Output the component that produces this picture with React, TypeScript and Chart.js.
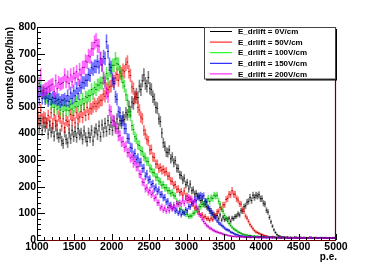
import React, { useEffect, useRef } from "react";
import { Chart, registerables } from "chart.js";

Chart.register(...registerables);

// Histogram binning: 20 p.e. per bin from 1000 to 5000 (200 bins)
const BIN_START = 1000;
const BIN_WIDTH = 20;

const LABELS = [
  "E_drlift = 0V/cm",
  "E_drlift = 50V/cm",
  "E_drlift = 100V/cm",
  "E_drlift = 150V/cm",
  "E_drlift = 200V/cm",
];

const X_TICKS = [1000, 1500, 2000, 2500, 3000, 3500, 4000, 4500, 5000];
const Y_TICKS = [0, 100, 200, 300, 400, 500, 600, 700, 800];

const counts0V = [
  455, 420, 448, 412, 440, 425, 438, 398, 430, 405, 420, 390, 428, 398, 385, 398, 372, 362, 405, 378,
  365, 402, 380, 412, 388, 408, 385, 418, 395, 402, 378, 410, 386, 370, 402, 385, 412, 372, 405, 418,
  395, 428, 388, 432, 405, 438, 408, 448, 415, 442, 412, 445, 425, 455, 420, 448, 438, 462, 452, 478,
  470, 502, 482, 518, 512, 538, 548, 535, 578, 565, 598, 620, 588, 578, 610, 570, 565, 538, 528, 498,
  495, 455, 445, 402, 365, 352, 330, 328, 338, 305, 312, 290, 298, 270, 268, 245, 242, 225, 232, 208,
  215, 192, 210, 185, 188, 172, 175, 165, 165, 148, 150, 135, 132, 125, 122, 108, 110, 95, 96, 90,
  92, 80, 94, 75, 86, 76, 80, 78, 82, 70, 82, 80, 88, 90, 98, 94, 110, 108, 125, 128,
  142, 145, 160, 148, 168, 160, 168, 165, 170, 155, 155, 138, 135, 112, 105, 85, 68, 52, 38, 28,
  20, 16, 14, 12, 11, 10, 9, 11, 8, 10, 9, 7, 10, 8, 9, 8, 10, 7, 9, 8,
  7, 9, 8, 10, 7, 8, 6, 9, 7, 8, 9, 7, 8, 6, 8, 7, 8, 6, 9, 7,
];

const counts50V = [
  480, 450, 488, 455, 462, 458, 440, 468, 445, 478, 438, 470, 448, 432, 465, 458, 428, 455, 422, 450,
  445, 432, 472, 450, 468, 440, 478, 455, 462, 482, 460, 490, 468, 498, 472, 495, 492, 500, 512, 502,
  512, 518, 525, 525, 548, 540, 568, 565, 575, 578, 598, 595, 608, 622, 600, 628, 625, 638, 632, 660,
  668, 632, 618, 575, 568, 532, 535, 498, 488, 462, 455, 412, 398, 378, 372, 338, 340, 312, 310, 285,
  285, 268, 272, 262, 265, 255, 258, 240, 240, 222, 220, 205, 208, 190, 192, 178, 182, 168, 184, 165,
  165, 150, 155, 135, 136, 120, 122, 105, 106, 92, 95, 85, 88, 80, 80, 74, 82, 76, 90, 92,
  106, 108, 122, 118, 132, 132, 152, 156, 172, 170, 185, 172, 172, 155, 150, 136, 135, 115, 108, 90,
  82, 70, 58, 50, 42, 35, 30, 28, 25, 22, 20, 18, 16, 15, 13, 12, 11, 13, 10, 11,
  10, 9, 11, 8, 10, 9, 10, 8, 9, 7, 8, 9, 7, 10, 8, 9, 7, 8, 6, 9,
  8, 7, 9, 8, 6, 7, 9, 8, 7, 8, 8, 6, 7, 9, 7, 6, 8, 7, 8, 6,
];

const counts100V = [
  598, 570, 572, 552, 555, 538, 535, 530, 528, 510, 518, 498, 520, 492, 512, 488, 508, 482, 505, 488,
  506, 486, 510, 492, 515, 500, 520, 502, 528, 506, 530, 512, 538, 535, 542, 542, 565, 548, 572, 565,
  582, 582, 590, 590, 608, 598, 625, 606, 638, 635, 656, 656, 680, 662, 660, 632, 615, 592, 578, 545,
  525, 480, 468, 430, 415, 388, 380, 358, 355, 336, 332, 314, 308, 296, 294, 270, 266, 254, 252, 236,
  236, 222, 218, 206, 208, 196, 196, 185, 185, 175, 178, 168, 165, 145, 138, 118, 115, 105, 104, 96,
  97, 88, 90, 90, 100, 102, 112, 115, 125, 125, 134, 135, 146, 145, 156, 145, 158, 156, 168, 165,
  168, 146, 135, 115, 108, 92, 80, 70, 62, 55, 48, 42, 38, 35, 30, 28, 25, 22, 20, 19,
  18, 16, 17, 15, 14, 15, 13, 14, 12, 13, 12, 11, 12, 10, 11, 10, 11, 9, 10, 8,
  9, 10, 8, 9, 10, 8, 9, 7, 9, 8, 9, 7, 8, 10, 7, 8, 9, 7, 8, 9,
  7, 8, 9, 6, 8, 8, 7, 6, 8, 9, 7, 9, 8, 7, 6, 8, 6, 7, 8, 7,
];

const counts150V = [
  555, 528, 560, 532, 552, 530, 552, 522, 550, 528, 535, 532, 532, 525, 528, 518, 525, 525, 530, 522,
  542, 520, 552, 532, 560, 542, 570, 550, 580, 572, 592, 590, 600, 600, 622, 618, 648, 642, 652, 652,
  670, 650, 680, 658, 688, 682, 745, 708, 660, 648, 605, 588, 538, 528, 482, 478, 448, 448, 418, 418,
  382, 380, 348, 345, 318, 325, 302, 308, 290, 292, 268, 270, 240, 248, 225, 228, 208, 212, 192, 198,
  182, 188, 170, 172, 158, 160, 143, 146, 130, 132, 118, 122, 108, 112, 100, 106, 94, 104, 100, 114,
  110, 126, 124, 140, 138, 152, 148, 162, 158, 168, 164, 166, 146, 142, 120, 118, 100, 102, 85, 82,
  72, 65, 60, 55, 50, 45, 40, 38, 35, 30, 28, 25, 22, 20, 18, 16, 15, 14, 13, 12,
  12, 11, 13, 10, 11, 10, 11, 9, 12, 10, 9, 11, 10, 8, 10, 9, 10, 8, 11, 9,
  8, 10, 9, 7, 9, 10, 8, 9, 8, 7, 8, 9, 10, 7, 8, 9, 7, 8, 9, 8,
  7, 8, 10, 8, 7, 9, 8, 7, 8, 9, 8, 7, 9, 6, 8, 7, 8, 6, 8, 7,
];

const counts200V = [
  555, 588, 620, 560, 562, 568, 568, 575, 578, 582, 585, 558, 598, 568, 592, 585, 588, 592, 620, 594,
  612, 588, 620, 594, 625, 608, 632, 604, 640, 620, 648, 648, 672, 668, 692, 688, 718, 718, 742, 750,
  730, 728, 682, 658, 608, 592, 552, 538, 488, 482, 450, 448, 418, 418, 390, 392, 368, 370, 348, 352,
  328, 328, 308, 312, 288, 295, 274, 275, 248, 246, 218, 216, 192, 196, 180, 186, 170, 176, 156, 160,
  140, 140, 120, 125, 112, 120, 108, 122, 110, 125, 118, 132, 120, 136, 134, 140, 136, 150, 138, 154,
  148, 160, 152, 154, 140, 145, 124, 118, 96, 92, 78, 70, 62, 55, 50, 45, 42, 38, 35, 32,
  30, 28, 26, 25, 22, 20, 19, 18, 16, 15, 14, 13, 14, 12, 13, 12, 11, 12, 10, 11,
  10, 11, 9, 10, 12, 9, 10, 11, 8, 10, 10, 8, 9, 11, 9, 8, 9, 10, 8, 9,
  9, 7, 8, 10, 8, 8, 9, 7, 8, 9, 7, 8, 9, 7, 8, 9, 8, 7, 9, 8,
  8, 7, 9, 8, 7, 7, 9, 8, 7, 8, 8, 7, 6, 8, 9, 7, 8, 9, 7, 6,
];

const SERIES_VALUES = [counts0V, counts50V, counts100V, counts150V, counts200V];
const LINE_COLORS = ["#000000", "#ff0000", "#00ff00", "#0000ff", "#ff00ff"];
const BAR_COLORS = [
  "rgba(0,0,0,0.5)",
  "rgba(255,0,0,0.55)",
  "rgba(0,220,0,0.6)",
  "rgba(0,0,255,0.55)",
  "rgba(255,0,255,0.6)",
];
const MARK_COLORS = ["#000000", "#a00000", "#007000", "#000090", "#900090"];

const FONT = "'Liberation Sans', Arial, Helvetica, sans-serif";

const histPlugin = {
  id: "rootHist",
  afterDatasetsDraw(chart: any) {
    const ctx = chart.ctx;
    const xs = chart.scales.x;
    const ys = chart.scales.y;
    const area = chart.chartArea;
    ctx.save();
    ctx.beginPath();
    ctx.rect(area.left, area.top, area.right - area.left, area.bottom - area.top);
    ctx.clip();
    chart.data.datasets.forEach((ds: any, di: number) => {
      ds.data.forEach((p: any) => {
        const err = Math.sqrt(p.y);
        const px = xs.getPixelForValue(p.x);
        const py = ys.getPixelForValue(p.y);
        const y1 = ys.getPixelForValue(p.y + err);
        const y2 = ys.getPixelForValue(Math.max(0, p.y - err));
        ctx.strokeStyle = BAR_COLORS[di];
        ctx.lineWidth = 1.6;
        ctx.beginPath();
        ctx.moveTo(px, y1);
        ctx.lineTo(px, y2);
        ctx.stroke();
        ctx.strokeStyle = MARK_COLORS[di];
        ctx.lineWidth = 1;
        ctx.beginPath();
        ctx.moveTo(xs.getPixelForValue(p.x - BIN_WIDTH / 2), py);
        ctx.lineTo(xs.getPixelForValue(p.x + BIN_WIDTH / 2), py);
        ctx.stroke();
      });
    });
    ctx.restore();
  },
  afterDraw(chart: any) {
    const ctx = chart.ctx;
    const xs = chart.scales.x;
    const ys = chart.scales.y;
    const { left, right, top, bottom } = chart.chartArea;
    ctx.save();
    // frame
    ctx.lineWidth = 1;
    ctx.strokeStyle = "#000";
    ctx.beginPath();
    ctx.moveTo(left + 0.5, bottom);
    ctx.lineTo(left + 0.5, top + 0.5);
    ctx.lineTo(right, top + 0.5);
    ctx.stroke();
    ctx.strokeStyle = "#6a0000";
    ctx.lineWidth = 1.2;
    ctx.beginPath();
    ctx.moveTo(left, bottom + 0.5);
    ctx.lineTo(right - 0.5, bottom + 0.5);
    ctx.lineTo(right - 0.5, top);
    ctx.stroke();
    // inward ticks
    ctx.strokeStyle = "#000";
    ctx.lineWidth = 1;
    ctx.beginPath();
    for (let v = 0; v <= 800; v += 20) {
      const y = Math.round(ys.getPixelForValue(v)) + 0.5;
      const len = v % 100 === 0 ? 8 : 4;
      ctx.moveTo(left, y);
      ctx.lineTo(left + len, y);
    }
    for (let v = 1000; v <= 5000; v += 100) {
      const x = Math.round(xs.getPixelForValue(v)) + 0.5;
      const len = v % 500 === 0 ? 6 : 3;
      ctx.moveTo(x, bottom);
      ctx.lineTo(x, bottom - len);
    }
    ctx.stroke();
    // x axis title
    ctx.fillStyle = "#000";
    ctx.font = `bold 10px ${FONT}`;
    ctx.textAlign = "right";
    ctx.textBaseline = "middle";
    ctx.fillText("p.e.", right + 1, 257);
    // legend
    const lx = 204.5, ly = 27.5, lw = 131, lh = 51.5;
    ctx.fillStyle = "#000";
    ctx.fillRect(lx + 1.5, ly + 1.5, lw, lh);
    ctx.fillStyle = "#fff";
    ctx.fillRect(lx, ly, lw, lh);
    ctx.strokeStyle = "#444";
    ctx.lineWidth = 1;
    ctx.strokeRect(lx, ly, lw, lh);
    ctx.font = `bold 8px ${FONT}`;
    ctx.textAlign = "left";
    ctx.textBaseline = "middle";
    chart.data.datasets.forEach((ds: any, i: number) => {
      const y = 31.5 + i * 10.6;
      ctx.strokeStyle = LINE_COLORS[i];
      ctx.lineWidth = 1;
      ctx.beginPath();
      ctx.moveTo(210, y);
      ctx.lineTo(232, y);
      ctx.stroke();
      ctx.fillStyle = "#000";
      ctx.fillText(ds.label, 238, y + 0.5);
    });
    ctx.restore();
  },
};

export default function App() {
  const ref = useRef<HTMLCanvasElement | null>(null);
  useEffect(() => {
    if (!ref.current) return;
    const datasets = SERIES_VALUES.map((vals, i) => ({
      label: LABELS[i],
      data: vals.map((v, j) => ({ x: BIN_START + BIN_WIDTH * (j + 0.5), y: v })),
      pointRadius: 0,
      showLine: false,
      borderColor: LINE_COLORS[i],
      backgroundColor: LINE_COLORS[i],
    }));
    const tickFont = { family: FONT, size: 10.5, weight: "bold" as const };
    const chart = new Chart(ref.current, {
      type: "scatter",
      data: { datasets },
      options: {
        animation: false,
        responsive: false,
        layout: { padding: { top: 27, right: 38, left: 0, bottom: 0 } },
        plugins: { legend: { display: false }, tooltip: { enabled: false } },
        scales: {
          x: {
            type: "linear",
            min: 1000,
            max: 5000,
            afterFit: (s: any) => { s.height = 28; },
            afterBuildTicks: (s: any) => { s.ticks = X_TICKS.map((v) => ({ value: v })); },
            grid: { display: false, drawTicks: false },
            border: { display: false },
            ticks: {
              padding: 1,
              color: "#000",
              font: tickFont,
              maxRotation: 0,
              autoSkip: false,
              callback: (v: any) => String(v),
            },
          },
          y: {
            type: "linear",
            min: 0,
            max: 800,
            afterFit: (s: any) => { s.width = 37; },
            afterBuildTicks: (s: any) => { s.ticks = Y_TICKS.map((v) => ({ value: v })); },
            grid: { display: false, drawTicks: false },
            border: { display: false },
            ticks: { padding: 1, color: "#000", font: tickFont, autoSkip: false, callback: (v: any) => String(v) },
            title: {
              display: true,
              text: "counts (20pe/bin)",
              align: "end",
              color: "#000",
              padding: { top: 4, bottom: 0 },
              font: { family: FONT, size: 10, weight: "bold" },
            },
          },
        },
      },
      plugins: [histPlugin],
    });
    return () => chart.destroy();
  }, []);
  return (
    <div style={{ position: "fixed", left: 0, top: 0, width: 374, height: 268, background: "#fff" }}>
      <canvas ref={ref} width={374} height={268} style={{ display: "block", width: 374, height: 268 }} />
    </div>
  );
}
